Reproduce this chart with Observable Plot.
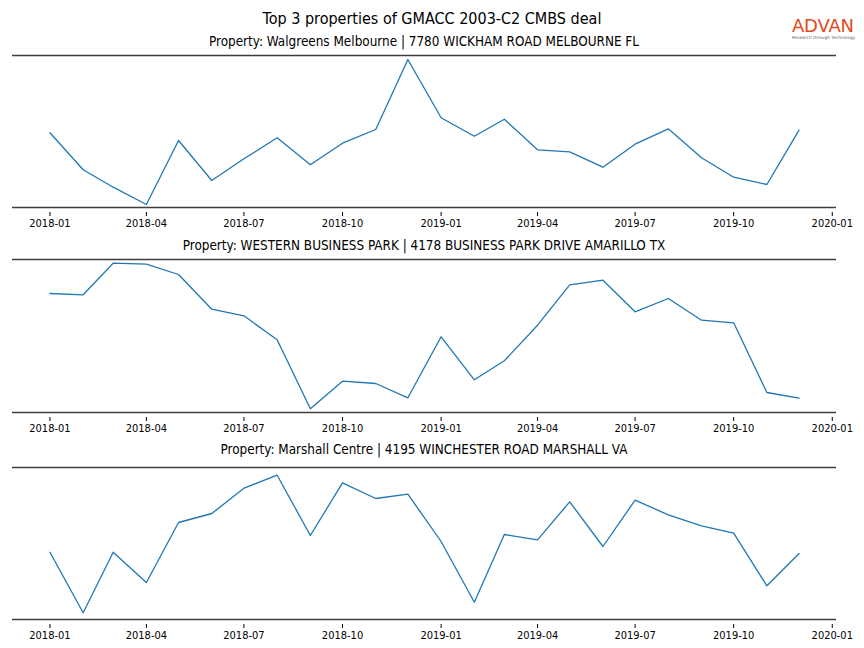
<!DOCTYPE html>
<html><head><meta charset="utf-8">
<script src="https://cdn.jsdelivr.net/npm/d3@7"></script>
<script src="https://cdn.jsdelivr.net/npm/@observablehq/plot@0.6"></script>
<style>
body{margin:0;background:#fff;}
#fig{position:relative;width:864px;height:648px;overflow:hidden;font-family:"DejaVu Sans Condensed","DejaVu Sans",sans-serif;}
.t{position:absolute;white-space:nowrap;transform:translate(-50%,-50%);color:#000;line-height:1;}
.panel{position:absolute;left:0;}
#logo{position:absolute;left:792px;top:17px;width:66px;}
#logo .a{font-family:"DejaVu Sans",sans-serif;font-size:18px;color:#e04a22;letter-spacing:-0.2px;line-height:1;}
#logo .b{font-family:"DejaVu Sans",sans-serif;font-size:4.3px;color:#666;line-height:1;margin-top:1px;white-space:nowrap;}
</style></head><body><div id="fig"></div>
<script>
const months = ["2018-01","2018-02","2018-03","2018-04","2018-05","2018-06","2018-07","2018-08","2018-09","2018-10","2018-11","2018-12",
                "2019-01","2019-02","2019-03","2019-04","2019-05","2019-06","2019-07","2019-08","2019-09","2019-10","2019-11","2019-12"];
const tickLabels = ["2018-01","2018-04","2018-07","2018-10","2019-01","2019-04","2019-07","2019-10","2020-01"];
const mainTitle = "Top 3 properties of GMACC 2003-C2 CMBS deal";
const panelTitles = [
  "Property: Walgreens Melbourne | 7780 WICKHAM ROAD MELBOURNE FL",
  "Property: WESTERN BUSINESS PARK | 4178 BUSINESS PARK DRIVE AMARILLO TX",
  "Property: Marshall Centre | 4195 WINCHESTER ROAD MARSHALL VA"
];
const walgreens = [74.7,37.7,20.3,3.0,67.0,27.0,48.7,69.7,42.7,64.3,78.0,148.0,
                   89.7,71.3,88.3,57.7,55.7,40.3,63.3,78.7,49.7,30.3,23.0,77.3];
const western   = [119.0,117.7,149.3,148.3,138.0,103.3,96.7,72.7,3.7,31.3,29.0,14.7,
                   75.7,32.7,51.7,87.3,127.7,132.3,100.7,114.0,92.3,89.7,20.0,14.3];
const marshall  = [67.3,6.7,67.3,37.0,97.0,106.0,131.3,144.3,84.0,136.7,121.0,125.3,
                   78.0,17.3,85.0,79.7,117.7,73.0,119.3,104.7,93.7,86.3,33.7,66.0];
const seriesList = [walgreens, western, marshall];
const yLimits = [[0,152],[0,153],[0,152]];

const parse = d3.utcParse("%Y-%m");
const dates = months.map(parse);
const tickDates = tickLabels.map(parse);
const [d0, d1] = d3.extent(dates);
const pad = (d1 - d0) * 0.05;
const xDomain = [new Date(+d0 - pad), new Date(+d1 + pad)];

const fig = document.getElementById("fig");
function addText(txt, x, y, size) {
  const el = document.createElement("div");
  el.className = "t";
  el.textContent = txt;
  el.style.left = x + "px";
  el.style.top = y + "px";
  el.style.fontSize = size + "px";
  fig.appendChild(el);
}
addText(mainTitle, 432, 19, 16);

const panelTops = [50, 254, 462];
const titleY = [42, 246, 450];
seriesList.forEach((vals, i) => {
  const data = vals.map((v, j) => ({date: dates[j], value: v}));
  const plotH = yLimits[i][1] - yLimits[i][0];
  const chart = Plot.plot({
    width: 864,
    height: 5 + plotH + 28,
    marginLeft: 12,
    marginRight: 28,
    marginTop: 5,
    marginBottom: 28,
    style: {fontFamily: '"DejaVu Sans Condensed","DejaVu Sans",sans-serif', fontSize: "11px", background: "white", overflow: "visible"},
    x: {type: "utc", domain: xDomain, axis: null},
    y: {domain: yLimits[i], axis: null},
    marks: [
      Plot.axisX(tickDates, {tickFormat: d3.utcFormat("%Y-%m"), tickSize: 4, tickPadding: 3, dy: 5, label: null}),
      Plot.ruleY(yLimits[i], {stroke: "#3d3d3d", strokeWidth: 1.7}),
      Plot.lineY(data, {x: "date", y: "value", stroke: "#1f77b4", strokeWidth: 1.3})
    ]
  });
  chart.classList.add("panel");
  chart.style.top = panelTops[i] + "px";
  fig.appendChild(chart);
  addText(panelTitles[i], 424, titleY[i], 13.4);
});

const logo = document.createElement("div");
logo.id = "logo";
logo.innerHTML = '<div class="a">ADVAN</div><div class="b">Research through Technology</div>';
fig.appendChild(logo);
</script>
</body></html>
